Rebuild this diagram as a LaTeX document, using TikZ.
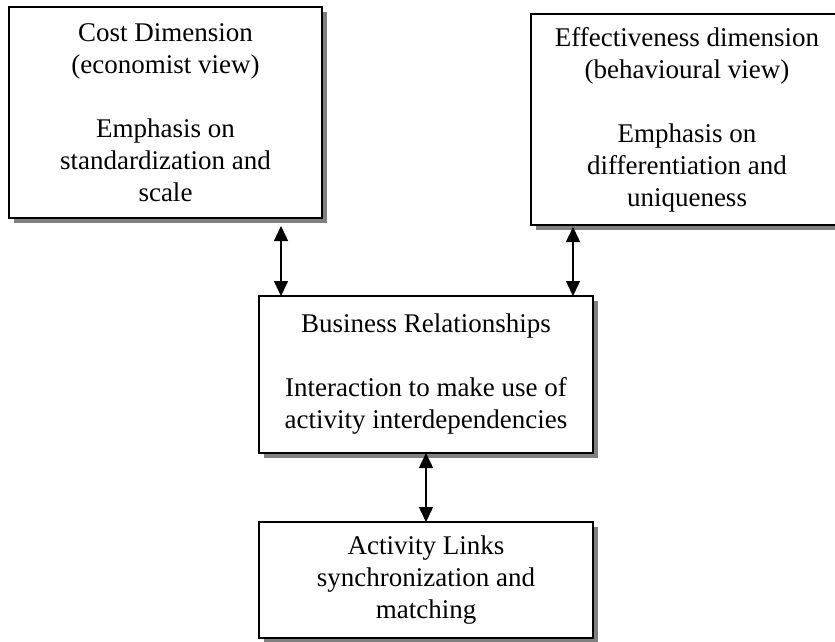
\documentclass[tikz,border=0pt]{standalone}
\usepackage{fontspec}
\setmainfont{Liberation Serif}
\usetikzlibrary{arrows.meta,shadows}
\definecolor{shadowgray}{RGB}{128,128,128}
\tikzset{
  box/.style={draw=black, line width=2pt, fill=white, align=center,
    inner sep=0pt, outer sep=0pt,
    font=\fontsize{27}{32}\selectfont,
    drop shadow={shadow xshift=5pt, shadow yshift=-5pt, fill=shadowgray, opacity=1}},
  link/.style={line width=1.5pt, {Triangle[width=14pt,length=15pt]}-{Triangle[width=14pt,length=15pt]}}
}
\begin{document}
\begin{tikzpicture}[x=1pt, y=-1pt]
  \useasboundingbox (0,0) rectangle (835,641);
  \clip (0,0) rectangle (835,641);
  \fill[white] (0,0) rectangle (835,641);

  % boxes
  \node[box, minimum width=313, minimum height=211] (cost) at (165.5,112.5)
    {Cost Dimension\\(economist view)\\[32pt]Emphasis on\\standardization and\\scale};
  \node[box, minimum width=312, minimum height=211] (eff) at (687,119.5)
    {Effectiveness dimension\\(behavioural view)\\[32pt]Emphasis on\\differentiation and\\uniqueness};
  \node[box, minimum width=334, minimum height=157] (biz) at (426,374.5)
    {Business Relationships\\[32pt]Interaction to make use of\\activity interdependencies};
  \node[box, minimum width=334, minimum height=116] (act) at (426,580)
    {Activity Links\\synchronization and\\matching};

  % connector columns
  \coordinate (lcol) at (281,0);
  \coordinate (rcol) at (573,0);

  % connectors
  \draw[link, shorten <=8pt] (cost.south -| lcol) -- (biz.north -| lcol);
  \draw[link, shorten <=2pt] (eff.south -| rcol) -- (biz.north -| rcol);
  \draw[link] (biz.south) -- (act.north);
\end{tikzpicture}
\end{document}
